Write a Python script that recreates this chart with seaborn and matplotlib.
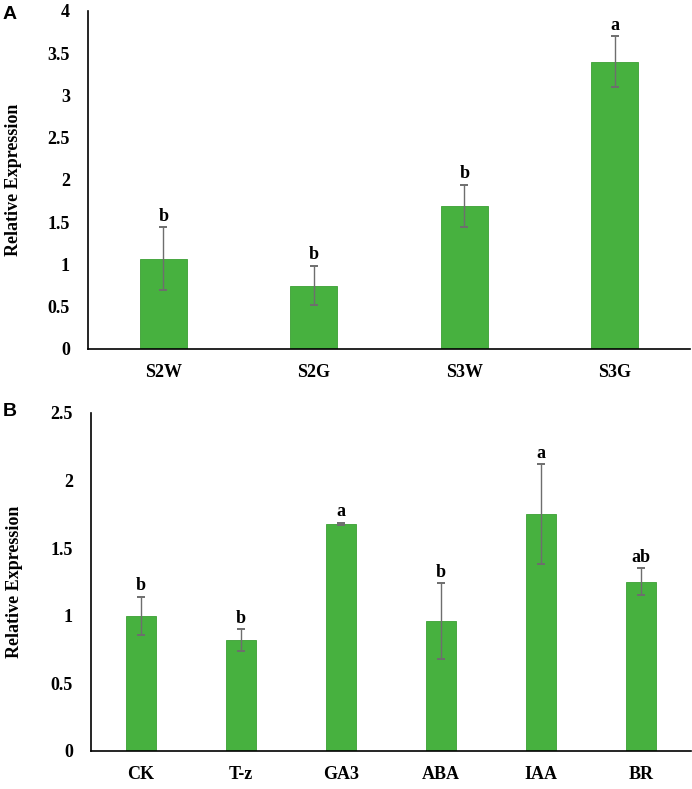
import numpy as np
import pandas as pd
import matplotlib
matplotlib.use("Agg")
import matplotlib.pyplot as plt
import seaborn as sns

# Panel A data
stages = ["S2W", "S2G", "S3W", "S3G"]
stage_expr = [1.07, 0.75, 1.69, 3.40]
stage_err = [0.37, 0.23, 0.25, 0.30]
stage_letters = ["b", "b", "b", "a"]

# Panel B data
treatments = ["CK", "T-z", "GA3", "ABA", "IAA", "BR"]
treat_expr = [1.00, 0.82, 1.68, 0.96, 1.75, 1.25]
treat_err = [0.14, 0.08, 0.005, 0.28, 0.37, 0.10]
treat_letters = ["b", "b", "a", "b", "a", "ab"]

BAR_COLOR = "#47B13F"
SERIF = "Liberation Serif"


def expr_panel(ax, cats, vals, errs, letters, ymax, ystep, width, label_x):
    df = pd.DataFrame({"group": cats, "expr": vals})
    sns.barplot(data=df, x="group", y="expr", color=BAR_COLOR, width=width,
                saturation=1, edgecolor="#3A9F33", linewidth=0.6, ax=ax)
    x = np.arange(len(cats))
    ax.errorbar(x, vals, yerr=errs, fmt="none", ecolor="#6E6E6E",
                elinewidth=1.0, capsize=3, capthick=1.4)
    for xi, v, e, lab in zip(x, vals, errs, letters):
        ax.annotate(lab, (xi, v + e), xytext=(0, 2), textcoords="offset points",
                    ha="center", va="bottom", fontsize=13, fontweight="bold",
                    family=SERIF, color="black")

    ax.set_xlim(-0.5, len(cats) - 0.5)
    ax.set_ylim(0, ymax)
    yt = np.arange(0, ymax + 1e-9, ystep)
    ax.set_yticks(yt)
    ax.set_yticklabels([f"{t:g}" for t in yt])
    ax.set_xticks(x)
    ax.set_xticks(np.arange(0.5, len(cats) - 0.5, 1.0), minor=True)
    ax.tick_params(axis="x", which="major", length=0, pad=11)
    ax.tick_params(axis="x", which="minor", direction="in", length=5, width=1)
    ax.tick_params(axis="y", direction="in", length=5, width=1, pad=13)
    for lbl in ax.get_xticklabels() + ax.get_yticklabels():
        lbl.set_fontfamily(SERIF)
        lbl.set_fontweight("bold")
        lbl.set_fontsize(13)
        lbl.set_color("black")

    ax.set_xlabel("")
    ax.set_ylabel("Relative Expression", fontsize=13, fontweight="bold",
                  family=SERIF, color="black")
    ax.yaxis.set_label_coords(label_x, 0.5)
    for side in ["top", "right"]:
        ax.spines[side].set_visible(False)
    for side in ["left", "bottom"]:
        ax.spines[side].set_color("black")
        ax.spines[side].set_linewidth(1.2)
    ax.set_facecolor("white")


sns.set_style("white")
plt.rcParams["text.color"] = "black"
fig = plt.figure(figsize=(6.92, 7.89), dpi=100)
ax_a = fig.add_axes([0.1272, 0.5577, 0.870, 0.4284])
ax_b = fig.add_axes([0.1315, 0.0482, 0.8671, 0.4284])

expr_panel(ax_a, stages, stage_expr, stage_err, stage_letters, 4, 0.5, 0.31, -0.109)
expr_panel(ax_b, treatments, treat_expr, treat_err, treat_letters, 2.5, 0.5, 0.30, -0.114)

fig.text(0.004, 0.992, "A", fontsize=14, fontweight="bold",
         family="Liberation Sans", va="top")
fig.text(0.004, 0.489, "B", fontsize=14, fontweight="bold",
         family="Liberation Sans", va="top")

fig.savefig("out.png", dpi=100)
